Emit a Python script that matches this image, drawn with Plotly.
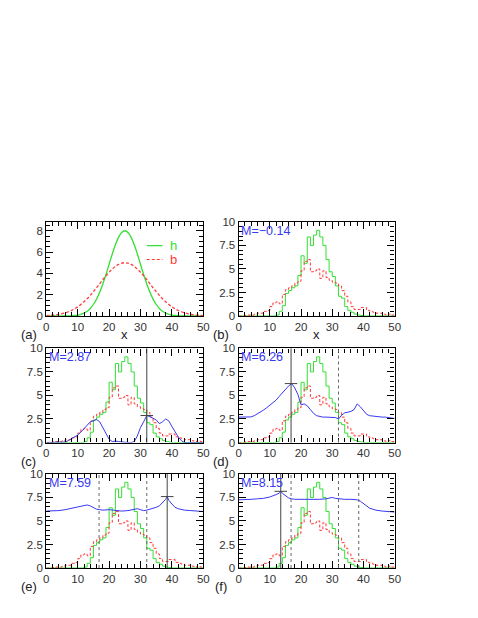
import plotly.graph_objects as go
from plotly.subplots import make_subplots

# ---- data ----
X_SMOOTH = list(range(51))
H_SMOOTH = [0, 0, 0, 0, 0, 0, 0.01, 0.01, 0.03, 0.05, 0.09, 0.16, 0.27, 0.45, 0.71,
            1.08, 1.58, 2.22, 3.00, 3.89, 4.85, 5.81, 6.68, 7.38, 7.84, 8.00,
            7.84, 7.38, 6.68, 5.81, 4.85, 3.89, 3.00, 2.22, 1.58, 1.08, 0.71, 0.45,
            0.27, 0.16, 0.09, 0.05, 0.03, 0.01, 0.01, 0, 0, 0, 0, 0, 0]
B_SMOOTH = [0.04, 0.06, 0.08, 0.11, 0.16, 0.22, 0.30, 0.40, 0.52, 0.68, 0.86, 1.08,
            1.34, 1.62, 1.94, 2.29, 2.65, 3.03, 3.41, 3.77, 4.11, 4.41, 4.66, 4.85,
            4.96, 5.00, 4.96, 4.85, 4.66, 4.41, 4.11, 3.77, 3.41, 3.03, 2.65, 2.29,
            1.94, 1.62, 1.34, 1.08, 0.86, 0.68, 0.52, 0.40, 0.30, 0.22, 0.16, 0.11,
            0.08, 0.06, 0.04]

BIN_EDGES = list(range(51))
H_HIST = [0, 0, 0, 0, 0, 0, 0, 0, 0, 0, 0, 0, 0.1, 0.5, 1.1, 2.4, 2.7, 3.0, 3.2, 4.3,
          6.4, 5.6, 8.4, 7.5, 8.6, 9.1, 8.4, 7.5, 6.0, 4.7, 4.2, 3.2, 2.1, 1.9, 1.0,
          0.6, 0.4, 0.2, 0.1, 0.05, 0, 0, 0, 0, 0, 0, 0, 0, 0, 0]
B_HIST = [0, 0, 0.05, 0.1, 0.1, 0.2, 0.3, 0.3, 0.5, 0.6, 1.0, 1.4, 1.5, 1.3, 2.3, 2.8,
          3.0, 3.2, 3.5, 3.7, 4.8, 5.8, 6.0, 4.7, 4.8, 5.0, 4.0, 4.8, 4.1, 3.8, 3.6,
          3.5, 3.2, 2.7, 2.1, 1.5, 1.0, 0.7, 0.7, 0.9, 0.9, 0.6, 0.5, 0.4, 0.3, 0.3,
          0.2, 0.1, 0.2, 0.1]

BLUE_C_X = list(range(51))
BLUE_C_Y = [0, 0, 0, 0, 0, 0, 0.05, 0.2, 0.4, 0.6, 0.8, 1.1, 1.5, 1.9, 2.2, 2.3, 2.45,
            2.2, 1.6, 0.9, 0.35, 0.1, 0.15, 0.1, 0.05, 0, 0, 0, 0.1, 0.7, 1.6, 2.2,
            2.87, 2.75, 2.6, 2.4, 2.0, 2.2, 2.5, 2.3, 1.7, 1.1, 0.6, 0.2, 0, 0, 0, 0,
            0, 0, 0]
BLUE_D_X = list(range(51))
BLUE_D_Y = [2.7, 2.7, 2.7, 2.7, 2.72, 2.85, 3.05, 3.2, 3.45, 3.7, 3.95, 4.25, 4.5,
            4.9, 5.3, 5.7, 6.0, 6.26, 5.8, 5.1, 4.0, 4.1, 3.9, 3.5, 3.1, 2.85, 2.75,
            2.7, 2.7, 2.7, 2.7, 2.65, 2.5, 2.9, 3.15, 3.2, 3.3, 3.5, 4.1, 3.8, 3.4,
            3.0, 2.85, 2.8, 2.75, 2.7, 2.7, 2.7, 2.65, 2.6, 2.55]
BLUE_E_X = [0, 2, 4, 6, 8, 10, 12, 13, 14, 15, 16, 17, 18, 20, 22, 24, 26, 28, 29, 30,
            31, 32, 33, 34, 35, 36, 37, 38, 38.5, 39, 40, 41, 42, 44, 46, 48, 50]
BLUE_E_Y = [6.05, 6.05, 6.1, 6.2, 6.35, 6.45, 6.6, 6.7, 6.6, 6.45, 6.25, 6.2, 6.15,
            6.2, 6.1, 6.05, 6.1, 6.2, 6.3, 6.2, 6.1, 6.15, 6.25, 6.3, 6.45, 6.6, 6.9,
            7.3, 7.59, 7.2, 6.8, 6.45, 6.3, 6.15, 6.1, 6.05, 6.0]
BLUE_F_X = [0, 2, 4, 6, 8, 10, 11, 12, 13, 13.5, 14, 15, 16, 17, 18, 20, 22, 24, 26,
            28, 29, 30, 31, 32, 34, 36, 38, 39, 40, 41, 42, 43, 44, 46, 48, 50]
BLUE_F_Y = [7.25, 7.25, 7.3, 7.35, 7.4, 7.55, 7.65, 7.8, 7.95, 8.15, 7.95, 7.7, 7.45,
            7.35, 7.3, 7.3, 7.3, 7.25, 7.3, 7.35, 7.45, 7.5, 7.4, 7.35, 7.3, 7.3, 7.25,
            7.1, 6.85, 6.55, 6.35, 6.25, 6.15, 6.05, 6.0, 5.95]

PANEL_LABELS = ["(a)", "(b)", "(c)", "(d)", "(e)", "(f)"]
M_VALUES = [None, -0.14, 2.87, 6.26, 7.59, 8.15]
PEAK_X = [None, None, 32.0, 16.8, 38.5, 13.5]
DASHED_X = [[], [], [], [32.0], [16.8, 32.0], [16.8, 32.0, 38.5]]
BLUE_CURVES = [None, None, (BLUE_C_X, BLUE_C_Y), (BLUE_D_X, BLUE_D_Y),
               (BLUE_E_X, BLUE_E_Y), (BLUE_F_X, BLUE_F_Y)]

GREEN = "#33e033"
RED = "#ff3b3b"
BLUE = "#3838f0"
TICK_TEXT = "#333333"
FONT = "Liberation Sans, Arial, sans-serif"

W, H = 478, 618
OFF = 8  # page body margin of the html page
COL_PX = [(44 - OFF, 204 - OFF), (240 - OFF, 399 - OFF)]
ROW_PX = [(220 - OFF, 316 - OFF), (349 - OFF, 445 - OFF), (477 - OFF, 573 - OFF)]

fig = make_subplots(rows=3, cols=2)

for i in range(6):
    row, col = i // 2 + 1, i % 2 + 1
    n = i + 1
    if i == 0:
        fig.add_trace(go.Scatter(x=X_SMOOTH, y=H_SMOOTH, mode="lines", line_shape="spline",
                                 line={"color": GREEN, "width": 1.3}, showlegend=False),
                      row=row, col=col)
        fig.add_trace(go.Scatter(x=X_SMOOTH, y=B_SMOOTH, mode="lines", line_shape="spline",
                                 line={"color": RED, "width": 1.3, "dash": "3px,2px"},
                                 showlegend=False),
                      row=row, col=col)
    else:
        fig.add_trace(go.Scatter(x=BIN_EDGES, y=H_HIST + [H_HIST[-1]], mode="lines",
                                 line_shape="hv", line={"color": GREEN, "width": 1},
                                 showlegend=False),
                      row=row, col=col)
        fig.add_trace(go.Scatter(x=BIN_EDGES, y=B_HIST + [B_HIST[-1]], mode="lines",
                                 line_shape="hv",
                                 line={"color": RED, "width": 1, "dash": "3px,2px"},
                                 showlegend=False),
                      row=row, col=col)
    if BLUE_CURVES[i] is not None:
        bx, by = BLUE_CURVES[i]
        fig.add_trace(go.Scatter(x=bx, y=by, mode="lines",
                                 line={"color": BLUE, "width": 1}, showlegend=False),
                      row=row, col=col)

    xr = f"x{n}" if n > 1 else "x"
    yr = f"y{n}" if n > 1 else "y"
    for dx in DASHED_X[i]:
        fig.add_shape(type="line", xref=xr, yref=f"{yr} domain", x0=dx, x1=dx, y0=0, y1=1,
                      line={"color": "#666666", "width": 1, "dash": "3px,3px"})
    if PEAK_X[i] is not None:
        fig.add_shape(type="line", xref=xr, yref=f"{yr} domain", x0=PEAK_X[i], x1=PEAK_X[i],
                      y0=0, y1=1, line={"color": "#444444", "width": 1})
        fig.add_shape(type="line", xref=xr, yref=yr, x0=PEAK_X[i] - 2, x1=PEAK_X[i] + 2,
                      y0=M_VALUES[i], y1=M_VALUES[i], line={"color": "#444444", "width": 1})
    if M_VALUES[i] is not None:
        fig.add_annotation(xref=f"{xr} domain", yref=f"{yr} domain", x=0.005, y=1.0,
                           xanchor="left", yanchor="top", showarrow=False,
                           text=f"M={M_VALUES[i]:.2f}".replace("-", "−"),
                           font={"color": BLUE, "size": 12.5, "family": FONT})

    c0, c1 = COL_PX[col - 1]
    r0, r1 = ROW_PX[row - 1]
    fig.update_xaxes(domain=[c0 / W, c1 / W], row=row, col=col)
    fig.update_yaxes(domain=[1 - r1 / H, 1 - r0 / H], row=row, col=col)
    fig.add_annotation(xref="paper", yref="paper", x=(c0 - 18) / W, y=1 - (r1 + 19) / H,
                       xanchor="center", yanchor="middle", showarrow=False,
                       text=PANEL_LABELS[i], font={"size": 13, "color": "#222", "family": FONT})
    if row == 1:
        fig.add_annotation(xref="paper", yref="paper", x=(c0 + c1) / 2 / W,
                           y=1 - (r1 + 19) / H, xanchor="center", yanchor="middle",
                           showarrow=False, text="x",
                           font={"size": 13, "color": "#222", "family": FONT})

# legend of panel (a)
fig.add_shape(type="line", xref="x", yref="y", x0=32, x1=37, y0=6.6, y1=6.6,
              line={"color": GREEN, "width": 1.2})
fig.add_shape(type="line", xref="x", yref="y", x0=32, x1=37, y0=5.3, y1=5.3,
              line={"color": RED, "width": 1.2, "dash": "3px,2px"})
fig.add_annotation(xref="x", yref="y", x=38.8, y=6.6, xanchor="left", showarrow=False,
                   text="h", font={"size": 13, "color": GREEN, "family": FONT})
fig.add_annotation(xref="x", yref="y", x=38.8, y=5.3, xanchor="left", showarrow=False,
                   text="b", font={"size": 13, "color": RED, "family": FONT})

axis_common = dict(
    showline=True, linecolor="black", linewidth=1.3, mirror="allticks",
    ticks="inside", ticklen=7, tickwidth=1, tickcolor="#000000",
    showgrid=False, zeroline=False, fixedrange=True,
    tickfont={"size": 11.5, "color": TICK_TEXT, "family": FONT},
)
fig.update_xaxes(range=[0, 50], tickmode="linear", dtick=10, tick0=0,
                 minor={"ticks": "inside", "ticklen": 4, "dtick": 2, "tick0": 0,
                        "tickcolor": "#000000", "tickwidth": 1},
                 **axis_common)
fig.update_yaxes(range=[0, 10], tickmode="linear", dtick=2.5, tick0=0,
                 minor={"ticks": "inside", "ticklen": 4, "dtick": 0.5, "tick0": 0,
                        "tickcolor": "#000000", "tickwidth": 1},
                 **axis_common)
fig.update_yaxes(range=[0, 8.83], dtick=2, row=1, col=1)

fig.update_layout(
    width=W, height=H,
    margin={"l": 0, "r": 0, "t": 0, "b": 0},
    paper_bgcolor="white", plot_bgcolor="white",
    font={"family": FONT},
    showlegend=False,
)

fig.write_html("out.html")
